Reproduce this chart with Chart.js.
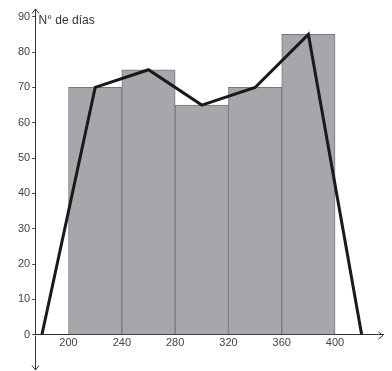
<!DOCTYPE html>
<html>
<head>
<meta charset="utf-8">
<script src="https://cdn.jsdelivr.net/npm/chart.js@4/dist/chart.umd.min.js"></script>
<style>
html,body{margin:0;padding:0;background:#fff;}
#wrap{width:392px;height:371px;position:relative;}
</style>
</head>
<body>
<div id="wrap"><canvas id="c"></canvas></div>
<script>
// Data
const binCenters = [220, 260, 300, 340, 380];
const frequencies = [70, 75, 65, 70, 85];
const polygonX = [180, 220, 260, 300, 340, 380, 420];
const polygonY = [0, 70, 75, 65, 70, 85, 0];
const xTickLabels = [200, 240, 280, 320, 360, 400];
const yTickLabels = [0, 10, 20, 30, 40, 50, 60, 70, 80, 90];
const yAxisTitle = 'N° de días';

const barData = binCenters.map((x, i) => ({x: x, y: frequencies[i]}));
const lineData = polygonX.map((x, i) => ({x: x, y: polygonY[i]}));

const decor = {
  id: 'decor',
  afterDraw(chart) {
    const ctx = chart.ctx;
    const xs = chart.scales.x, ys = chart.scales.y;
    const ax = Math.round(xs.getPixelForValue(xs.min)) + 0.5;
    const ay = Math.round(ys.getPixelForValue(0)) + 0.5;
    const top = ys.getPixelForValue(ys.max);
    const bot = chart.height - 1;
    const right = xs.getPixelForValue(xs.max);
    ctx.save();
    ctx.strokeStyle = '#333';
    ctx.lineWidth = 1;
    ctx.beginPath();
    ctx.moveTo(ax, ay); ctx.lineTo(ax, bot);
    ctx.moveTo(ax - 3.5, top + 4.5); ctx.lineTo(ax, top); ctx.lineTo(ax + 3.5, top + 4.5);
    ctx.moveTo(ax - 3.5, bot - 4.5); ctx.lineTo(ax, bot); ctx.lineTo(ax + 3.5, bot - 4.5);
    ctx.moveTo(right - 4.5, ay - 3.5); ctx.lineTo(right, ay); ctx.lineTo(right - 4.5, ay + 3.5);
    ctx.stroke();
    ctx.fillStyle = '#333';
    ctx.font = '12px "Liberation Sans", Arial, sans-serif';
    ctx.textBaseline = 'alphabetic';
    ctx.textAlign = 'left';
    ctx.fillText(yAxisTitle, ax + 3, top + 15);
    ctx.restore();
  }
};

new Chart(document.getElementById('c'), {
  type: 'bar',
  data: {
    datasets: [
      {
        type: 'line',
        data: lineData,
        borderColor: '#1a1a1a',
        borderWidth: 3,
        pointRadius: 0,
        tension: 0,
        fill: false,
        order: 0
      },
      {
        type: 'bar',
        data: barData,
        backgroundColor: '#a7a7ab',
        borderColor: '#77777c',
        borderWidth: 1,
        categoryPercentage: 1,
        barPercentage: 1,
        order: 1
      }
    ]
  },
  options: {
    responsive: true,
    maintainAspectRatio: false,
    animation: false,
    layout: {padding: {left: 16, right: 9, top: 9, bottom: 19}},
    plugins: {legend: {display: false}, tooltip: {enabled: false}},
    scales: {
      x: {
        type: 'linear',
        min: 175,
        max: 436,
        offset: false,
        position: 'bottom',
        afterBuildTicks: s => { s.ticks = xTickLabels.map(v => ({value: v})); },
        grid: {display: true, drawOnChartArea: false, drawTicks: false, offset: false},
        border: {display: true, color: '#333', width: 1},
        ticks: {color: '#444', font: {size: 11, family: '"Liberation Sans", Arial, sans-serif'}, padding: 2, maxRotation: 0, autoSkip: false}
      },
      y: {
        type: 'linear',
        min: 0,
        max: 92.2,
        position: 'left',
        afterBuildTicks: s => { s.ticks = yTickLabels.map(v => ({value: v})); },
        grid: {display: true, drawOnChartArea: false, drawTicks: true, tickLength: 3, color: '#444'},
        border: {display: true, color: '#333', width: 1},
        ticks: {color: '#444', font: {size: 11, family: '"Liberation Sans", Arial, sans-serif'}, padding: 2, autoSkip: false}
      }
    }
  },
  plugins: [decor]
});
</script>
</body>
</html>
